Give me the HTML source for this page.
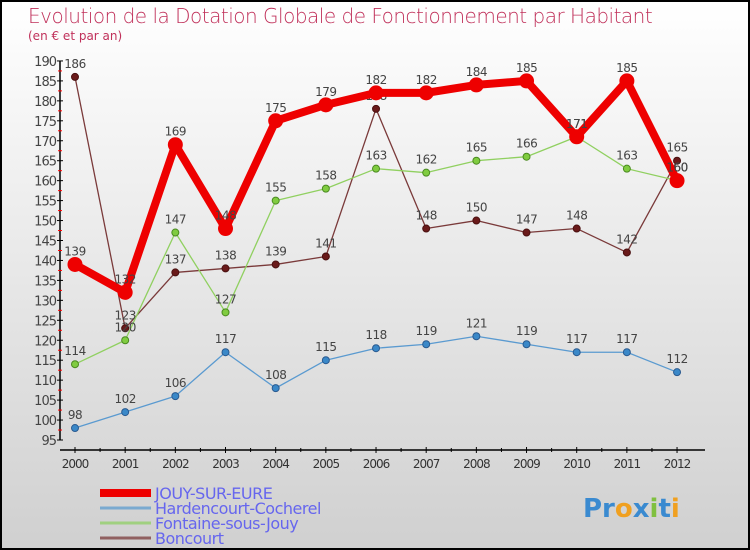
<!DOCTYPE html>
<html><head><meta charset="utf-8"><style>
body{margin:0}
#c{width:750px;height:550px;position:relative;box-sizing:border-box;border:2px solid #000;background:linear-gradient(#fff,#d0d0d0);font-family:"DejaVu Sans","Liberation Sans",sans-serif;overflow:hidden}
.t{position:absolute;left:26px;top:2px;font-size:20px;color:#c0305a;font-weight:200;letter-spacing:-0.5px}
.s{position:absolute;left:26px;top:27px;font-size:12px;color:#c0305a}
</style></head><body>
<div id="c">
<div class="t">Evolution de la Dotation Globale de Fonctionnement par Habitant</div>
<div class="s">(en € et par an)</div>
<svg id="svg" width="750" height="550" style="position:absolute;left:-2px;top:-2px"></svg>
</div>
<script>
const years=[2000,2001,2002,2003,2004,2005,2006,2007,2008,2009,2010,2011,2012];
const jouy=[139,132,169,148,175,179,182,182,184,185,171,185,160];
const hard=[98,102,106,117,108,115,118,119,121,119,117,117,112];
const font=[114,120,147,127,155,158,163,162,165,166,171,163,160];
const bonc=[186,123,137,138,139,141,178,148,150,147,148,142,165];
const yTicks=[95,100,105,110,115,120,125,130,135,140,145,150,155,160,165,170,175,180,185,190];
const NS="http://www.w3.org/2000/svg";
const svg=document.getElementById('svg');
const X=i=>75+i*50.17;
const Y=v=>440-(v-95)*3.99;
function mk(t,a,p){const e=document.createElementNS(NS,t);for(const k in a)e.setAttribute(k,a[k]);(p||svg).appendChild(e);return e;}
const ax=mk('g',{});


mk('line',{x1:60,y1:Y(190),x2:60,y2:Y(95),stroke:'#000','stroke-width':1.5},ax);
mk('line',{x1:60,y1:450,x2:705,y2:450,stroke:'#000','stroke-width':1.5},ax);
yTicks.forEach(v=>{
 mk('line',{x1:57,y1:Y(v),x2:63,y2:Y(v),stroke:'#000'},ax);
 if(v<190)mk('line',{x1:58,y1:Y(v+2.5),x2:62,y2:Y(v+2.5),stroke:'red'},ax);
 const t=mk('text',{x:56,y:Y(v)+5,'text-anchor':'end','font-size':13,fill:'#444','letter-spacing':'-1'},ax);t.textContent=v;
});
years.forEach((y,i)=>{
 mk('line',{x1:X(i),y1:447,x2:X(i),y2:453,stroke:'#000'},ax);
 if(i<12)mk('line',{x1:X(i+0.5),y1:448,x2:X(i+0.5),y2:452,stroke:'#000'},ax);
 const t=mk('text',{x:X(i),y:468,'text-anchor':'middle','font-size':12,fill:'#333','letter-spacing':'-1'},ax);t.textContent=y;
});
function series(d,name,col,w,r,dot,dotStroke){
 const g=mk('g',{});
 
 
 mk('polyline',{points:d.map((v,i)=>X(i)+','+Y(v)).join(' '),fill:'none',stroke:col,'stroke-width':w,'stroke-linejoin':'round'},g);
 d.forEach((v,i)=>{mk('circle',{cx:X(i),cy:Y(v),r:r,fill:dot,stroke:dotStroke,'stroke-width':1},g);
  const t=mk('text',{x:X(i),y:Y(v)-9,'text-anchor':'middle','font-size':12,fill:'#444','letter-spacing':'-0.5'},g);t.textContent=v;});
}
series(bonc,'series-boncourt','#7a3a3a',1.3,3.5,'#6a1a1a','#4a1010');
series(font,'series-fontaine','#90d060',1.3,3.5,'#80cc40','#4a8a20');
series(hard,'series-hardencourt','#5a9ad0',1.3,3.5,'#3a88c8','#2a5a90');
series(jouy,'series-jouy','#ee0000',8,7,'#ee0000','#ee0000');
const lg=[['JOUY-SUR-EURE','#ee0000',8],['Hardencourt-Cocherel','#7aaad0',3],['Fontaine-sous-Jouy','#a0d080',3],['Boncourt','#906060',3]];
lg.forEach((l,i)=>{
 const g=mk('g',{});
 
 
 const y=493+i*15;
 mk('line',{x1:100,y1:y,x2:151,y2:y,stroke:l[1],'stroke-width':l[2]},g);
 const t=mk('text',{x:155,y:y+6,'font-size':16,fill:'#6666ee','letter-spacing':'-0.5'},g);t.textContent=l[0];
});
const lo=mk('text',{x:583,y:517,'font-size':26,'font-weight':'bold',fill:'#3a8ad0'});


lo.innerHTML='<tspan fill="#3a8ad0">Pr</tspan><tspan fill="#f0a020">o</tspan><tspan fill="#3a8ad0">x</tspan><tspan fill="#80c040">i</tspan><tspan fill="#3a8ad0">t</tspan><tspan fill="#f0a020">i</tspan>';
</script>
</body></html>
